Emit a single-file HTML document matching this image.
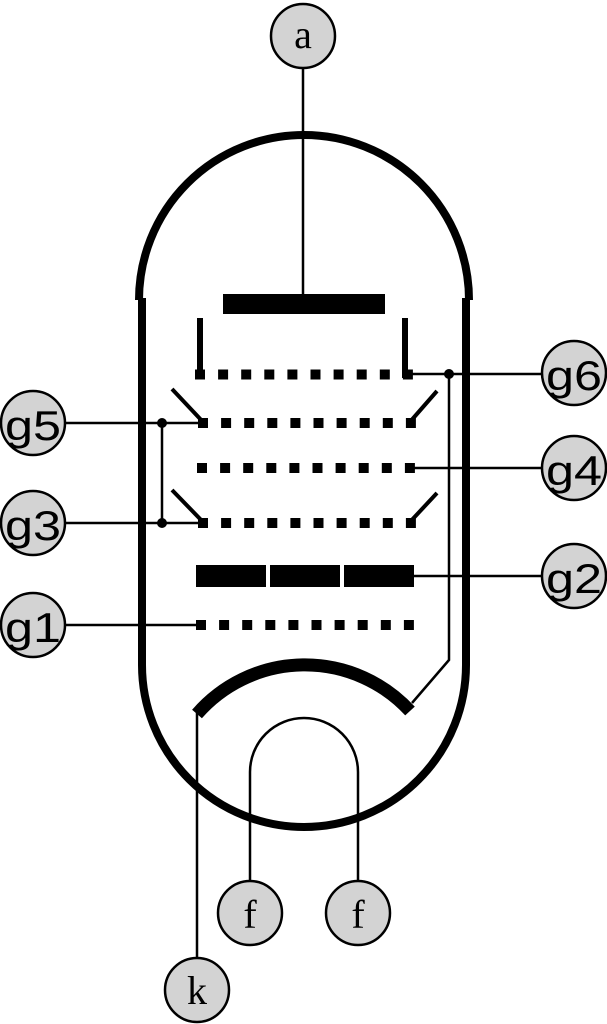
<!DOCTYPE html>
<html><head><style>html,body{margin:0;padding:0;background:#fff}svg{display:block}</style></head>
<body>
<svg width="607" height="1024" viewBox="0 0 607 1024" xmlns="http://www.w3.org/2000/svg">
<g fill="none" stroke="#000">
<path d="M139 300 A164 164 0 0 1 469 300" stroke-width="8"/>
<path d="M142 298 V665 A162 162 0 0 0 466 665 V298" stroke-width="8"/>
<line x1="303" y1="68" x2="303" y2="296" stroke-width="2.5"/>
<line x1="200" y1="318" x2="200" y2="378" stroke-width="6"/>
<line x1="405" y1="318" x2="405" y2="378" stroke-width="6"/>
<g stroke-width="10" stroke-dasharray="10 13.1">
<line x1="195" y1="374.5" x2="413" y2="374.5"/>
<line x1="198" y1="423" x2="416" y2="423"/>
<line x1="197" y1="468" x2="415" y2="468"/>
<line x1="198" y1="523" x2="416" y2="523"/>
<line x1="196" y1="625" x2="414" y2="625"/>
</g>
<g stroke-width="4">
<line x1="172" y1="389" x2="204" y2="423"/>
<line x1="437" y1="391" x2="409" y2="423"/>
<line x1="172" y1="490" x2="204" y2="523"/>
<line x1="437" y1="493" x2="409" y2="523"/>
</g>
<g stroke-width="2.5">
<line x1="410" y1="374" x2="545" y2="374"/>
<polyline points="449,374 449,660 412,703"/>
<line x1="64" y1="423" x2="200" y2="423"/>
<line x1="64" y1="523" x2="200" y2="523"/>
<line x1="162" y1="423" x2="162" y2="523"/>
<line x1="413" y1="468" x2="543" y2="468"/>
<line x1="414" y1="576" x2="543" y2="576"/>
<line x1="64" y1="625" x2="196" y2="625"/>
<line x1="197" y1="713" x2="197" y2="960"/>
<path d="M250 882 V772 A54 54 0 0 1 358 772 V882"/>
</g>
<path d="M197 714 A143 143 0 0 1 410 711" stroke-width="13"/>
</g>
<rect x="223" y="294" width="162" height="20" fill="#000"/>
<rect x="196" y="565" width="70" height="22" fill="#000"/>
<rect x="270" y="565" width="70" height="22" fill="#000"/>
<rect x="344" y="565" width="70" height="22" fill="#000"/>
<circle cx="449" cy="374" r="5" fill="#000"/>
<circle cx="162" cy="423" r="5" fill="#000"/>
<circle cx="162" cy="523" r="5" fill="#000"/>
<g fill="#d3d3d3" stroke="#000" stroke-width="2.5">
<circle cx="303" cy="36" r="32"/>
<circle cx="574" cy="373" r="32"/>
<circle cx="574" cy="468" r="32"/>
<circle cx="574" cy="576" r="32"/>
<circle cx="33" cy="423" r="32"/>
<circle cx="33" cy="523" r="32"/>
<circle cx="33" cy="625" r="32"/>
<circle cx="250" cy="913" r="32"/>
<circle cx="358" cy="913" r="32"/>
<circle cx="197" cy="990" r="32"/>
</g>
<g font-family="Liberation Sans, sans-serif" font-size="42" text-anchor="middle" fill="#000">
<text x="574" y="390" textLength="56" lengthAdjust="spacingAndGlyphs">g6</text>
<text x="574" y="485" textLength="56" lengthAdjust="spacingAndGlyphs">g4</text>
<text x="574" y="593" textLength="56" lengthAdjust="spacingAndGlyphs">g2</text>
<text x="33" y="440" textLength="56" lengthAdjust="spacingAndGlyphs">g5</text>
<text x="33" y="540" textLength="56" lengthAdjust="spacingAndGlyphs">g3</text>
<text x="33" y="642" textLength="56" lengthAdjust="spacingAndGlyphs">g1</text>
</g>
<g font-family="Liberation Serif, serif" font-size="40" text-anchor="middle" fill="#000">
<text x="303" y="48">a</text>
<text x="250" y="928">f</text>
<text x="358" y="928">f</text>
<text x="197" y="1004">k</text>
</g>
</svg>
</body></html>
